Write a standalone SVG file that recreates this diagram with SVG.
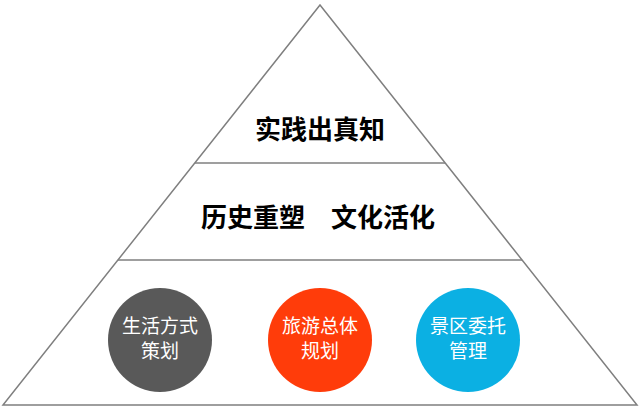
<svg xmlns="http://www.w3.org/2000/svg" width="640" height="409" viewBox="0 0 640 409">
<style>
.ln{stroke:#7f7f7f;stroke-width:1.5;fill:none}
.t{font-family:"Noto Sans CJK SC",sans-serif;font-weight:bold;font-size:26px;fill:#000;text-anchor:middle}
.c{font-family:"Noto Sans CJK SC",sans-serif;font-size:19px;fill:#fff;text-anchor:middle}
</style>
<rect width="640" height="409" fill="#fff"/>
<g id="connectors">
<polygon class="ln" points="320,5 637,405 3,405"/>
<line class="ln" x1="195" y1="163" x2="445" y2="163"/>
<line class="ln" x1="118" y1="260" x2="522" y2="260"/>
</g>
<g id="top"><text class="t" x="320" y="139">实践出真知</text></g>
<g id="middle"><text class="t" x="318" y="227">历史重塑　文化活化</text></g>
<g id="n1"><circle cx="160" cy="340" r="52" fill="#595959"/><text class="c" x="160" y="333">生活方式</text><text class="c" x="160" y="358">策划</text></g>
<g id="n2"><circle cx="320" cy="340" r="52" fill="#ff3c0a"/><text class="c" x="320" y="333">旅游总体</text><text class="c" x="320" y="358">规划</text></g>
<g id="n3"><circle cx="468" cy="340" r="52" fill="#0bb0e3"/><text class="c" x="468" y="333">景区委托</text><text class="c" x="468" y="358">管理</text></g>
</svg>
